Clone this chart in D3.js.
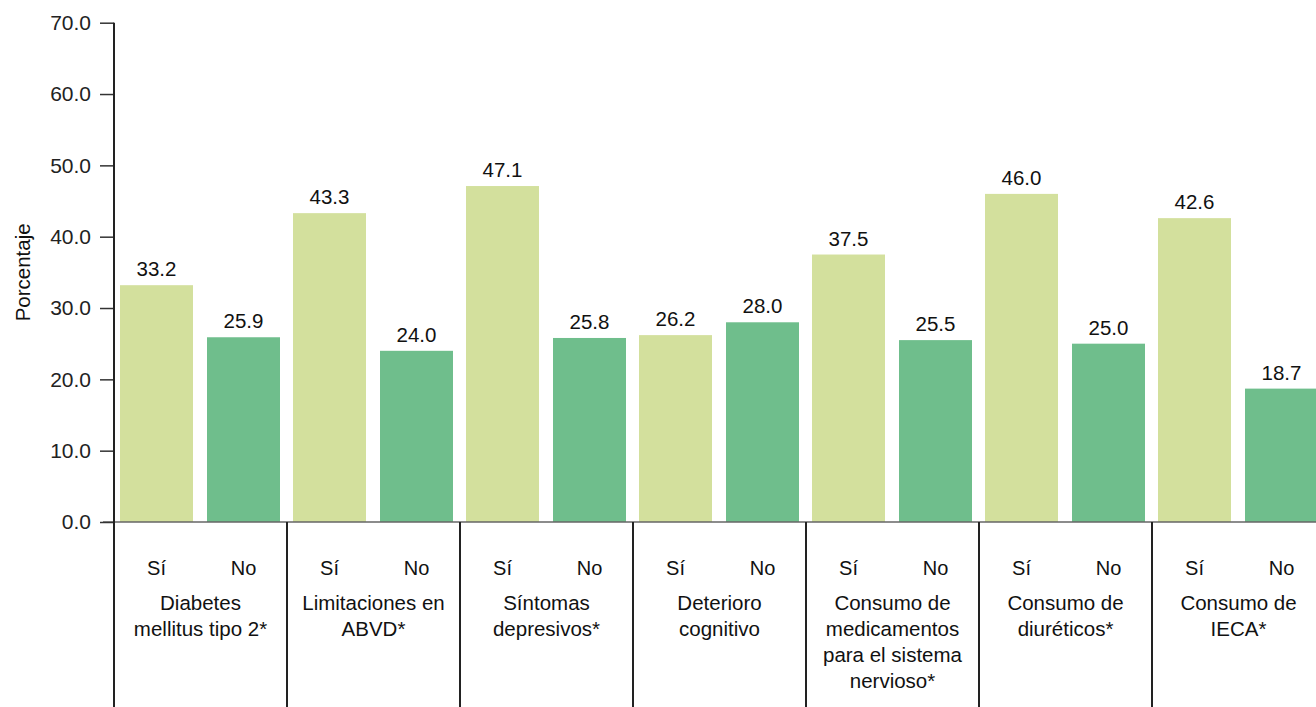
<!DOCTYPE html>
<html>
<head>
<meta charset="utf-8">
<script src="https://cdn.jsdelivr.net/npm/d3@7"></script>
<style>
  html, body { margin: 0; padding: 0; background: #fff; }
  svg { display: block; font-family: "Liberation Sans", Arial, sans-serif; }
</style>
</head>
<body>
<svg id="chart" width="1316" height="707"></svg>
<script>
// Factores asociados: porcentaje según presencia (Sí) o ausencia (No)
const categories = [
  ["Diabetes", "mellitus tipo 2*"],
  ["Limitaciones en", "ABVD*"],
  ["Síntomas", "depresivos*"],
  ["Deterioro", "cognitivo"],
  ["Consumo de", "medicamentos", "para el sistema", "nervioso*"],
  ["Consumo de", "diuréticos*"],
  ["Consumo de", "IECA*"]
];
const subgroups = ["Sí", "No"];
const valuesSi = [33.2, 43.3, 47.1, 26.2, 37.5, 46.0, 42.6];
const valuesNo = [25.9, 24.0, 25.8, 28.0, 25.5, 25.0, 18.7];
const yTicks = [0, 10, 20, 30, 40, 50, 60, 70];
const yTitle = "Porcentaje";

const colors = { "Sí": "#d3e09d", "No": "#6fbe8c" };

const svg = d3.select("#chart");
const W = 1316, H = 707;
const x0Left = 114, groupW = 173;
const yTop = 22.7, yZero = 522;

const idx = d3.range(categories.length);
const x0 = d3.scaleBand()
  .domain(idx)
  .range([x0Left, x0Left + groupW * categories.length])
  .paddingInner(0).paddingOuter(0);

const x1 = d3.scaleBand()
  .domain(subgroups)
  .range([6, groupW - 7])
  .paddingInner(14 / 87)
  .paddingOuter(0);

const y = d3.scaleLinear().domain([0, 70]).range([yZero, yTop]);

const data = idx.map(i => ({ i, vals: [
  { key: "Sí", v: valuesSi[i] },
  { key: "No", v: valuesNo[i] }
]}));

// Bars
const g = svg.append("g");
const groups = g.selectAll("g.grp").data(data).join("g")
  .attr("class", "grp")
  .attr("transform", d => `translate(${x0(d.i)},0)`);

groups.selectAll("rect").data(d => d.vals).join("rect")
  .attr("x", d => x1(d.key))
  .attr("width", x1.bandwidth())
  .attr("y", d => y(d.v))
  .attr("height", d => y(0) - y(d.v))
  .attr("fill", d => colors[d.key]);

// Value labels
groups.selectAll("text.val").data(d => d.vals).join("text")
  .attr("class", "val")
  .attr("x", d => x1(d.key) + x1.bandwidth() / 2)
  .attr("y", d => y(d.v) - 9)
  .attr("text-anchor", "middle")
  .attr("font-size", 20.5)
  .attr("fill", "#111")
  .text(d => d.v.toFixed(1));

// Zero baseline
svg.append("line")
  .attr("x1", 103).attr("x2", W)
  .attr("y1", y(0)).attr("y2", y(0))
  .attr("stroke", "#666").attr("stroke-width", 1.5);

// Y axis
const yAxis = d3.axisLeft(y)
  .tickValues(yTicks)
  .tickFormat(d3.format(".1f"))
  .tickSize(14)
  .tickPadding(9);

const ya = svg.append("g")
  .attr("transform", `translate(${x0Left},0)`)
  .call(yAxis);
ya.select(".domain").remove();
ya.selectAll(".tick line").attr("stroke", "#333").attr("stroke-width", 1.5);
ya.selectAll(".tick text")
  .attr("font-size", 21)
  .attr("fill", "#222")
  .attr("font-family", "Liberation Sans, Arial, sans-serif");

// Vertical axis line
svg.append("line")
  .attr("x1", x0Left).attr("x2", x0Left)
  .attr("y1", y(70)).attr("y2", H)
  .attr("stroke", "#222").attr("stroke-width", 2);

// Group separators below the baseline
svg.selectAll("line.sep").data(idx.slice(1)).join("line")
  .attr("class", "sep")
  .attr("x1", d => x0(d)).attr("x2", d => x0(d))
  .attr("y1", y(0)).attr("y2", H)
  .attr("stroke", "#222").attr("stroke-width", 2);

// Subgroup labels (Sí / No)
groups.selectAll("text.sub").data(d => d.vals).join("text")
  .attr("class", "sub")
  .attr("x", d => x1(d.key) + x1.bandwidth() / 2)
  .attr("y", 575)
  .attr("text-anchor", "middle")
  .attr("font-size", 20)
  .attr("fill", "#111")
  .text(d => d.key);

// Category labels
groups.append("text")
  .attr("text-anchor", "middle")
  .attr("font-size", 20.5)
  .attr("fill", "#111")
  .selectAll("tspan").data(d => categories[d.i]).join("tspan")
  .attr("x", groupW / 2)
  .attr("y", (d, j) => 610 + j * 26)
  .text(d => d);

// Y axis title
svg.append("text")
  .attr("transform", `translate(30,${(y(0) + y(70)) / 2}) rotate(-90)`)
  .attr("text-anchor", "middle")
  .attr("font-size", 20.5)
  .attr("fill", "#111")
  .text(yTitle);
</script>
</body>
</html>
